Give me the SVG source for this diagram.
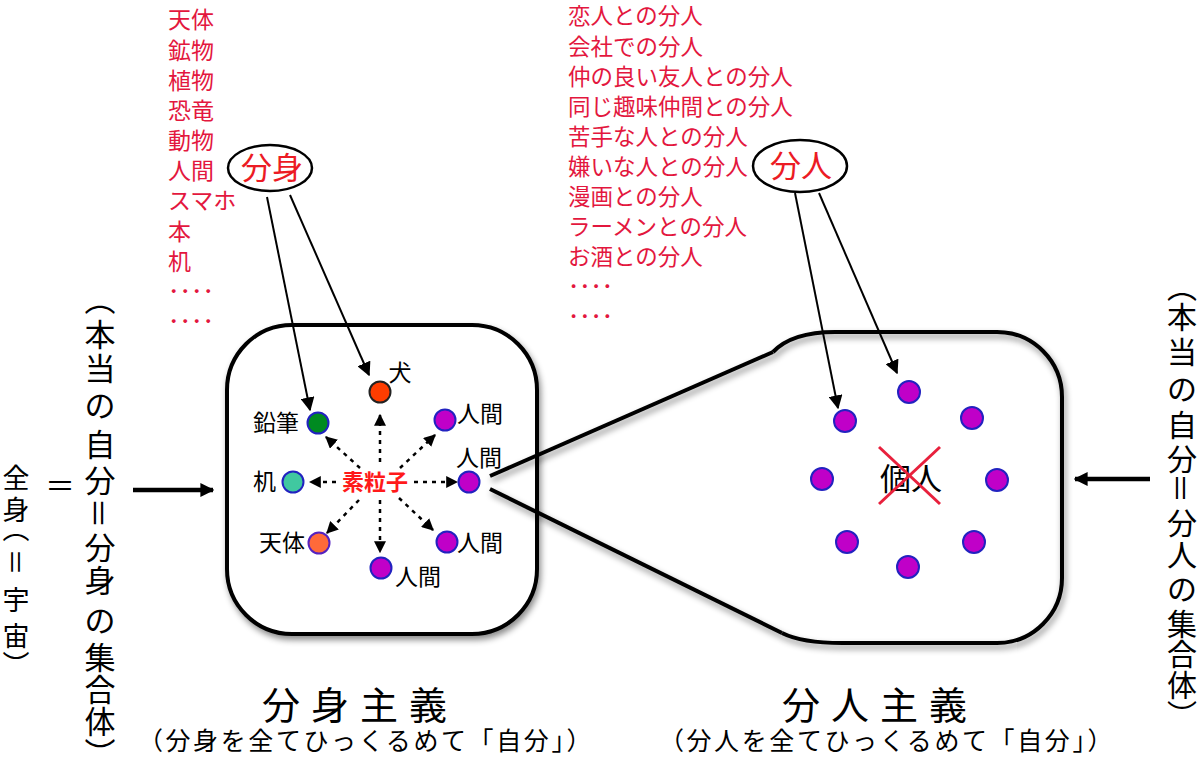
<svg xmlns="http://www.w3.org/2000/svg" width="1200" height="772" viewBox="0 0 1200 772">
<style>
.jp{font-family:"Noto Sans CJK JP","Noto Sans",sans-serif}
.red{fill:#ec1b24}
.lst{font-size:22px;fill:#e3173e}
.lbl{font-size:23px;fill:#000}
.box{fill:#fff;stroke:#000;stroke-width:4}
.zl{fill:none;stroke:#000;stroke-width:4}
.pn{fill:#c000c8;stroke:#2222c0;stroke-width:2}
.dot{stroke:#000;stroke-width:2.5;stroke-dasharray:4 5;fill:none}
.sol{stroke:#000;stroke-width:2;fill:none}
.vc{text-anchor:middle;dominant-baseline:central}
</style>
<defs>
<filter id="sh" x="-10%" y="-10%" width="125%" height="125%">
<feDropShadow dx="2" dy="4" stdDeviation="3" flood-color="#000" flood-opacity="0.45"/>
</filter>
<marker id="ah" viewBox="0 0 10 10" refX="9" refY="5" markerWidth="12" markerHeight="12" markerUnits="userSpaceOnUse" orient="auto">
<path d="M0,0 L10,5 L0,10 Z" fill="#000"/>
</marker>
<marker id="ah2" viewBox="0 0 10 10" refX="9" refY="5" markerWidth="14" markerHeight="14" markerUnits="userSpaceOnUse" orient="auto">
<path d="M0,0 L10,5 L0,10 Z" fill="#000"/>
</marker>
</defs>
<rect width="1200" height="772" fill="#fff"/>

<!-- left list -->
<g id="list-left" class="jp lst" style="font-size:23px">
<text x="168" y="28">天体</text>
<text x="168" y="59">鉱物</text>
<text x="168" y="89">植物</text>
<text x="168" y="119">恐竜</text>
<text x="168" y="149">動物</text>
<text x="168" y="179">人間</text>
<text x="168" y="209">スマホ</text>
<text x="168" y="240">本</text>
<text x="168" y="270">机</text>
<text x="168" y="300">････</text>
<text x="168" y="330">････</text>
</g>

<!-- right list -->
<g id="list-right" class="jp lst" style="font-size:22.5px">
<text x="568" y="24">恋人との分人</text>
<text x="568" y="55">会社での分人</text>
<text x="568" y="85">仲の良い友人との分人</text>
<text x="568" y="115">同じ趣味仲間との分人</text>
<text x="568" y="145">苦手な人との分人</text>
<text x="568" y="175">嫌いな人との分人</text>
<text x="568" y="205">漫画との分人</text>
<text x="568" y="235">ラーメンとの分人</text>
<text x="568" y="265">お酒との分人</text>
<text x="568" y="295">････</text>
<text x="568" y="325">････</text>
</g>

<!-- left box -->
<g id="box-bunshin">
<rect class="box" x="227" y="325" width="310" height="309" rx="65" ry="65" filter="url(#sh)"/>
</g>

<!-- right box -->
<g id="box-bunjin">
<path d="M773,352 Q792,332 835,332 H997 A65,65 0 0 1 1062,397 V578 A65,65 0 0 1 997,643 H842 Q802,643 782,633 Z" fill="#fff"/>
<path class="zl" d="M773,352 Q792,332 835,332 H997 A65,65 0 0 1 1062,397 V578 A65,65 0 0 1 997,643 H842 Q802,643 782,633" filter="url(#sh)"/>
</g>

<!-- connectors -->
<g id="connectors">
<line class="zl" x1="490" y1="476" x2="773" y2="352" filter="url(#sh)"/>
<line class="zl" x1="490" y1="489" x2="782" y2="633" filter="url(#sh)"/>
<line class="sol" x1="267" y1="197" x2="310" y2="410" marker-end="url(#ah2)"/>
<line class="sol" x1="290" y1="195" x2="369" y2="375" marker-end="url(#ah2)"/>
<line class="sol" x1="795" y1="193" x2="838" y2="408" marker-end="url(#ah2)"/>
<line class="sol" x1="819" y1="193" x2="897" y2="373" marker-end="url(#ah2)"/>
<line class="dot" x1="380" y1="462" x2="380" y2="415" marker-end="url(#ah)"/>
<line class="dot" x1="380" y1="500" x2="380" y2="552" marker-end="url(#ah)"/>
<line class="dot" x1="336" y1="482" x2="310" y2="482" marker-end="url(#ah)"/>
<line class="dot" x1="414" y1="482" x2="457" y2="482" marker-end="url(#ah)"/>
<line class="dot" x1="360" y1="468" x2="326" y2="437" marker-end="url(#ah)"/>
<line class="dot" x1="400" y1="468" x2="435" y2="435" marker-end="url(#ah)"/>
<line class="dot" x1="359" y1="500" x2="327" y2="533" marker-end="url(#ah)"/>
<line class="dot" x1="399" y1="498" x2="433" y2="530" marker-end="url(#ah)"/>
<line x1="133" y1="490" x2="213" y2="490" stroke="#000" stroke-width="4.5" marker-end="url(#ah2)"/>
<line x1="1150" y1="479" x2="1075" y2="479" stroke="#000" stroke-width="4.5" marker-end="url(#ah2)"/>
</g>

<!-- ellipses -->
<g id="bunshin-tag">
<ellipse cx="270" cy="168" rx="42" ry="23" fill="#fff" stroke="#000" stroke-width="2.5"/>
<text class="jp red" x="272" y="179" font-size="31" text-anchor="middle">分身</text>
</g>
<g id="bunjin-tag">
<ellipse cx="800" cy="166" rx="47" ry="26" fill="#fff" stroke="#000" stroke-width="2.5"/>
<text class="jp red" x="801" y="177" font-size="31" text-anchor="middle">分人</text>
</g>

<!-- left box nodes -->
<g id="center-soryushi"><text class="jp" x="375" y="490" font-size="22" font-weight="bold" fill="#ff1a1a" text-anchor="middle">素粒子</text></g>
<g id="n-inu"><circle cx="380" cy="392" r="10.5" fill="#ff3d00" stroke="#222" stroke-width="2"/><text class="jp lbl" x="400" y="381" text-anchor="middle">犬</text></g>
<g id="n-enpitsu"><circle cx="318" cy="423" r="10.5" fill="#008a20" stroke="#2222c0" stroke-width="2"/><text class="jp lbl" x="299" y="431" text-anchor="end">鉛筆</text></g>
<g id="n-ningen1"><circle class="pn" cx="445" cy="420" r="10.5"/><text class="jp lbl" x="457" y="422">人間</text></g>
<g id="n-ningen2"><circle class="pn" cx="469" cy="482" r="10.5"/><text class="jp lbl" x="479" y="466" text-anchor="middle">人間</text></g>
<g id="n-tsukue"><circle cx="293" cy="482" r="10.5" fill="#40c8a0" stroke="#2222c0" stroke-width="2"/><text class="jp lbl" x="276" y="490" text-anchor="end">机</text></g>
<g id="n-tentai"><circle cx="319" cy="543" r="10.5" fill="#ff6a3a" stroke="#5522c0" stroke-width="2"/><text class="jp lbl" x="305" y="551" text-anchor="end">天体</text></g>
<g id="n-ningen3"><circle class="pn" cx="447" cy="542" r="10.5"/><text class="jp lbl" x="457" y="551">人間</text></g>
<g id="n-ningen4"><circle class="pn" cx="381" cy="568" r="10.5"/><text class="jp lbl" x="395" y="585">人間</text></g>

<!-- right box nodes -->
<g id="bunjin-nodes">
<circle class="pn" cx="845" cy="421" r="11"/>
<circle class="pn" cx="909" cy="392" r="11"/>
<circle class="pn" cx="972" cy="418" r="11"/>
<circle class="pn" cx="822" cy="479" r="11"/>
<circle class="pn" cx="997" cy="480" r="11"/>
<circle class="pn" cx="847" cy="542" r="11"/>
<circle class="pn" cx="974" cy="542" r="11"/>
<circle class="pn" cx="908" cy="567" r="11"/>
</g>
<g id="kojin">
<text class="jp" x="911" y="490" font-size="31" text-anchor="middle" fill="#000">個人</text>
<line x1="879" y1="447" x2="940" y2="504" stroke="#e8203c" stroke-width="3"/>
<line x1="940" y1="447" x2="879" y2="504" stroke="#e8203c" stroke-width="3"/>
</g>

<!-- vertical texts (one character per position) -->
<g id="left-vertical" class="jp" font-size="31">
<text class="vc"><tspan x="100" y="297">︵</tspan><tspan x="100" y="332">本</tspan><tspan x="100" y="366">当</tspan><tspan x="100" y="403">の</tspan><tspan x="100" y="442">自</tspan><tspan x="100" y="478">分</tspan></text>
<text class="vc" x="100" y="513" transform="rotate(90 100 513)">＝</text>
<text class="vc"><tspan x="100" y="545">分</tspan><tspan x="100" y="578">身</tspan><tspan x="100" y="618">の</tspan><tspan x="100" y="655">集</tspan><tspan x="100" y="687">合</tspan><tspan x="100" y="719">体</tspan><tspan x="100" y="751">︶</tspan></text>
</g>
<g id="equals" class="jp"><text class="vc" x="60" y="484" font-size="30">＝</text></g>
<g id="zenshin-vertical" class="jp" font-size="27">
<text class="vc"><tspan x="16" y="476">全</tspan><tspan x="16" y="508">身</tspan><tspan x="16" y="527">︵</tspan></text>
<text class="vc" x="16" y="562" transform="rotate(90 16 562)">＝</text>
<text class="vc"><tspan x="16" y="598">宇</tspan><tspan x="16" y="634">宙</tspan><tspan x="16" y="663">︶</tspan></text>
</g>
<g id="right-vertical" class="jp" font-size="30">
<text class="vc"><tspan x="1182" y="285">︵</tspan><tspan x="1182" y="315">本</tspan><tspan x="1182" y="350">当</tspan><tspan x="1182" y="387">の</tspan><tspan x="1182" y="423">自</tspan><tspan x="1182" y="457">分</tspan></text>
<text class="vc" x="1182" y="488" transform="rotate(90 1182 488)">＝</text>
<text class="vc"><tspan x="1182" y="521">分</tspan><tspan x="1182" y="553">人</tspan><tspan x="1182" y="587">の</tspan><tspan x="1182" y="622">集</tspan><tspan x="1182" y="652">合</tspan><tspan x="1182" y="683">体</tspan><tspan x="1182" y="713">︶</tspan></text>
</g>

<!-- titles -->
<g id="title-left" class="jp">
<text x="360" y="719" font-size="38" letter-spacing="11" text-anchor="middle">分身主義</text>
<text x="366" y="750" font-size="25" letter-spacing="2.6" text-anchor="middle">（分身を全てひっくるめて「自分」）</text>
</g>
<g id="title-right" class="jp">
<text x="880" y="719" font-size="38" letter-spacing="11" text-anchor="middle">分人主義</text>
<text x="887" y="750" font-size="25" letter-spacing="2.6" text-anchor="middle">（分人を全てひっくるめて「自分」）</text>
</g>
</svg>
